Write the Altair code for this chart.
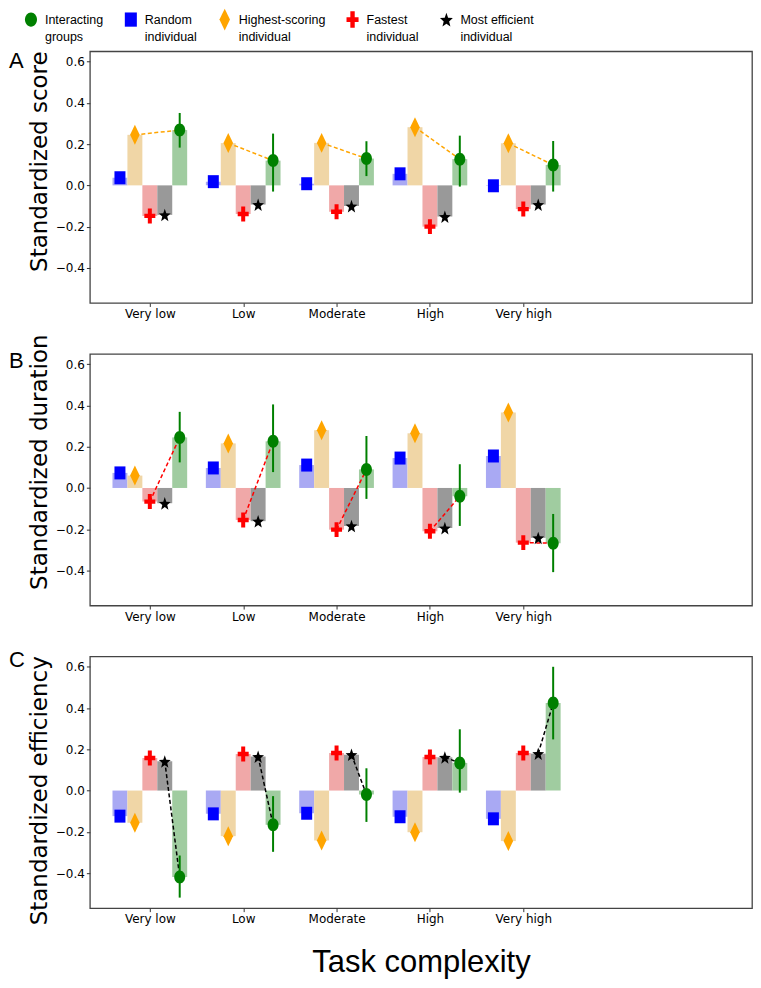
import json
import numpy as np
import pandas as pd
import altair as alt

# ---------------- data ----------------
categories = ["Very low", "Low", "Moderate", "High", "Very high"]
bar_order = ["Random individual", "Highest-scoring individual", "Fastest individual",
             "Most efficient individual", "Interacting groups"]
legend_order = ["Interacting groups", "Random individual", "Highest-scoring individual",
                "Fastest individual", "Most efficient individual"]

# Panel A: standardized score
score_random = [0.037, 0.018, 0.008, 0.056, -0.002]
score_highest = [0.245, 0.205, 0.206, 0.282, 0.204]
score_fastest = [-0.148, -0.139, -0.128, -0.200, -0.115]
score_efficient = [-0.143, -0.093, -0.100, -0.151, -0.093]
score_groups = [0.268, 0.120, 0.130, 0.127, 0.099]
score_groups_lo = [0.183, -0.030, 0.045, -0.006, -0.030]
score_groups_hi = [0.351, 0.251, 0.214, 0.241, 0.215]

# Panel B: standardized duration
dur_random = [0.073, 0.097, 0.111, 0.145, 0.155]
dur_highest = [0.060, 0.216, 0.280, 0.265, 0.366]
dur_fastest = [-0.066, -0.155, -0.202, -0.210, -0.265]
dur_efficient = [-0.074, -0.161, -0.184, -0.194, -0.242]
dur_groups = [0.245, 0.226, 0.090, -0.040, -0.268]
dur_groups_lo = [0.124, 0.077, -0.053, -0.184, -0.408]
dur_groups_hi = [0.369, 0.405, 0.252, 0.115, -0.126]

# Panel C: standardized efficiency
eff_random = [-0.124, -0.113, -0.110, -0.127, -0.137]
eff_highest = [-0.156, -0.221, -0.242, -0.202, -0.245]
eff_fastest = [0.158, 0.177, 0.182, 0.163, 0.182]
eff_efficient = [0.142, 0.165, 0.174, 0.161, 0.179]
eff_groups = [-0.419, -0.166, -0.019, 0.134, 0.424]
eff_groups_lo = [-0.519, -0.297, -0.152, -0.010, 0.248]
eff_groups_hi = [-0.315, -0.027, 0.108, 0.297, 0.600]

y_ticks = [-0.4, -0.2, 0.0, 0.2, 0.4, 0.6]

# ---------------- styles ----------------
marker_color = {
    "Interacting groups": "#008000",
    "Random individual": "#0000ff",
    "Highest-scoring individual": "#ffa500",
    "Fastest individual": "#ff0000",
    "Most efficient individual": "#000000",
}
bar_color = {
    "Random individual": "#a9a9f3",
    "Highest-scoring individual": "#f0d6a6",
    "Fastest individual": "#f0a8a8",
    "Most efficient individual": "#999999",
    "Interacting groups": "#a0cca0",
}


def star_path(R=0.62, inner=0.42, sy=1.12):
    pts = []
    for k in range(10):
        ang = np.deg2rad(-90 + 36 * k)
        r = R if k % 2 == 0 else R * inner
        pts.append((r * np.cos(ang), r * np.sin(ang) * sy + 0.08))
    return "M" + "L".join(f"{x:.3f},{y:.3f}" for x, y in pts) + "Z"


shape_path = {
    "Interacting groups": "M-0.55,0A0.55,0.65 0 1,0 0.55,0A0.55,0.65 0 1,0 -0.55,0Z",
    "Random individual": "M-0.55,-0.65L0.55,-0.65L0.55,0.65L-0.55,0.65Z",
    "Highest-scoring individual": "M0,-1L0.48,0L0,1L-0.48,0Z",
    "Fastest individual": ("M-0.2,-0.75L0.2,-0.75L0.2,-0.22L0.55,-0.22L0.55,0.22L0.2,0.22"
                           "L0.2,0.75L-0.2,0.75L-0.2,0.22L-0.55,0.22L-0.55,-0.22L-0.2,-0.22Z"),
    "Most efficient individual": star_path(),
}

BAR_W = 0.16
W, H = 663, 252
X_DOMAIN = [-0.642, -0.642 + W / 93.49]
Y_DOMAIN = [-0.57, 0.65]
TICK_FONT = "DejaVu Sans"
SANS = "Liberation Sans"


def build_panel(vals, lo, hi, link_series, link_color, ytitle, title_y, letter, letter_y,
                show_legend, xtitle):
    rows = []
    for k, s in enumerate(bar_order):
        for i, c in enumerate(categories):
            x = i + (k - 2) * BAR_W
            rows.append({"category": c, "series": s, "value": vals[s][i],
                         "x": x, "x1": x - BAR_W / 2, "x2": x + BAR_W / 2})
    df = pd.DataFrame(rows)
    err = df[df.series == "Interacting groups"].copy()
    err["lo"] = lo
    err["hi"] = hi
    link = df[df.series.isin([link_series, "Interacting groups"])]

    xscale = alt.Scale(domain=X_DOMAIN, nice=False, zero=False)
    yscale = alt.Scale(domain=Y_DOMAIN, nice=False, zero=False)

    xaxis_kw = dict(values=list(range(len(categories))),
                    labelExpr=f"{json.dumps(categories)}[datum.value]",
                    grid=False, domain=False, tickSize=3.5, tickColor="#333333",
                    labelPadding=2, labelFont=TICK_FONT, labelFontSize=12,
                    labelColor="black")
    if xtitle:
        xaxis_kw.update(title=xtitle, titleFont=SANS, titleFontSize=31,
                        titleFontWeight="normal", titleColor="black",
                        titleY=63, titleBaseline="alphabetic")
    else:
        xaxis_kw.update(title=None)
    xaxis = alt.Axis(**xaxis_kw)
    yaxis = alt.Axis(values=y_ticks, format=".1f", title=ytitle, grid=False, domain=False,
                     tickSize=3.5, tickColor="#333333", labelPadding=2,
                     labelFont=TICK_FONT, labelFontSize=12, labelColor="black",
                     titleFont=TICK_FONT, titleFontSize=23, titleFontWeight="normal",
                     titleColor="black", titleAngle=270, titleX=-50, titleY=title_y,
                     titleAlign="center", titleBaseline="middle")

    bars = alt.Chart(df).mark_rect().encode(
        x=alt.X("x1:Q", scale=xscale, axis=xaxis),
        x2="x2:Q",
        y=alt.Y("value:Q", scale=yscale, axis=yaxis),
        y2=alt.datum(0),
        fill=alt.Fill("series:N", scale=alt.Scale(domain=bar_order,
                                                  range=[bar_color[s] for s in bar_order]),
                      legend=None),
    )
    line = alt.Chart(link).mark_line(color=link_color, strokeDash=[4, 2.5],
                                     strokeWidth=1.5).encode(
        x="x:Q", y="value:Q", detail="category:N")
    errbar = alt.Chart(err).mark_rule(color="#008000", strokeWidth=2).encode(
        x="x:Q", y="lo:Q", y2="hi:Q")

    if show_legend:
        leg = alt.Legend(orient="none", legendX=-71, legendY=-44, direction="horizontal",
                         columns=5, title=None, symbolSize=480, symbolOpacity=1,
                         labelFont=SANS, labelFontSize=12.5, labelColor="black", labelOffset=2,
                         columnPadding=15, padding=0, labelLimit=200,
                         labelExpr=("[slice(datum.label, 0, lastindexof(datum.label, ' ')), "
                                    "slice(datum.label, lastindexof(datum.label, ' ') + 1)]"))
    else:
        leg = None
    markers = alt.Chart(df).mark_point(filled=True, size=400, opacity=1).encode(
        x="x:Q", y="value:Q",
        color=alt.Color("series:N", scale=alt.Scale(domain=legend_order,
                                                    range=[marker_color[s] for s in legend_order]),
                        legend=leg),
        shape=alt.Shape("series:N", scale=alt.Scale(domain=legend_order,
                                                    range=[shape_path[s] for s in legend_order]),
                        legend=leg),
    )
    lab = alt.Chart(pd.DataFrame({"t": [letter]})).mark_text(
        font=SANS, fontSize=22, align="left", baseline="alphabetic", color="black").encode(
        text="t:N", x=alt.value(-81), y=alt.value(letter_y))

    return alt.layer(bars, line, errbar, markers, lab).properties(width=W, height=H)


vals_a = dict(zip(bar_order, [score_random, score_highest, score_fastest, score_efficient, score_groups]))
vals_b = dict(zip(bar_order, [dur_random, dur_highest, dur_fastest, dur_efficient, dur_groups]))
vals_c = dict(zip(bar_order, [eff_random, eff_highest, eff_fastest, eff_efficient, eff_groups]))

pa = build_panel(vals_a, score_groups_lo, score_groups_hi, "Highest-scoring individual", "#ffa500",
                 "Standardized score", 110, "A", 17, True, None)
pb = build_panel(vals_b, dur_groups_lo, dur_groups_hi, "Fastest individual", "#ff0000",
                 "Standardized duration", 108, "B", 14, False, None)
pc = build_panel(vals_c, eff_groups_lo, eff_groups_hi, "Most efficient individual", "#000000",
                 "Standardized efficiency", 134, "C", 11, False, "Task complexity")

chart = alt.vconcat(pa, pb, pc, spacing=51, bounds="flush").resolve_scale(
    color="independent", shape="independent", fill="independent"
).properties(
    padding={"top": -2.3, "left": 0, "right": 0, "bottom": 0}
).configure(
    style={"guide-label": {"lineHeight": 17}}
).configure_view(stroke="#444444", strokeWidth=1.3)

chart.save("out.html", embed_options={"renderer": "svg", "actions": False})
